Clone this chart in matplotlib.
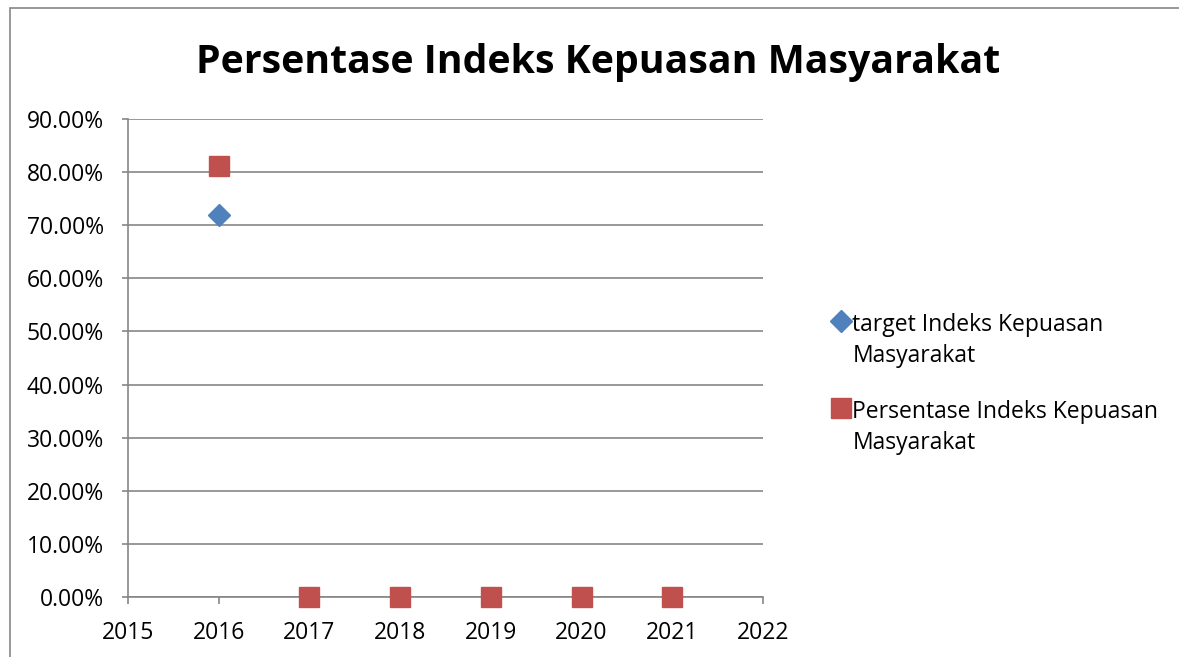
import matplotlib.pyplot as plt
import matplotlib.patches as patches
from matplotlib.ticker import PercentFormatter

plt.rcParams['font.family'] = ['Open Sans', 'DejaVu Sans']

# data
target_years = [2016]
target_vals = [0.72]
persen_years = [2016, 2017, 2018, 2019, 2020, 2021]
persen_vals = [0.8113, 0.0, 0.0, 0.0, 0.0, 0.0]
x_ticks = [2015, 2016, 2017, 2018, 2019, 2020, 2021, 2022]
y_ticks = [0.0, 0.1, 0.2, 0.3, 0.4, 0.5, 0.6, 0.7, 0.8, 0.9]

grey = '#868686'

fig = plt.figure(figsize=(11.79, 6.57), dpi=100)
ax = fig.add_axes([128 / 1179, 1 - 597 / 657, 635 / 1179, 478 / 657])

ax.plot(target_years, target_vals, linestyle='none', marker='D', markersize=11,
        color='#4F81BD', label='target Indeks Kepuasan\nMasyarakat', clip_on=False, zorder=3)
ax.plot(persen_years, persen_vals, linestyle='none', marker='s', markersize=14,
        color='#C0504D', label='Persentase Indeks Kepuasan\nMasyarakat', clip_on=False, zorder=3)

ax.set_xlim(2015, 2022)
ax.set_ylim(0, 0.9)
ax.set_xticks(x_ticks)
ax.set_yticks(y_ticks)
ax.yaxis.set_major_formatter(PercentFormatter(1.0, decimals=2))

ax.grid(axis='y', color=grey, linewidth=1.2)
ax.set_axisbelow(True)
for s in ['top', 'right']:
    ax.spines[s].set_visible(False)
for s in ['left', 'bottom']:
    ax.spines[s].set_color(grey)
    ax.spines[s].set_linewidth(1.2)

ax.tick_params(axis='x', length=5, width=1.2, color=grey, labelsize=16.5, pad=12)
ax.tick_params(axis='y', length=4.5, width=1.2, color=grey, labelsize=16.5, pad=13)

leg = ax.legend(loc='upper left', bbox_to_anchor=(821 / 1179, 1 - 302 / 657),
                bbox_transform=fig.transFigure, frameon=False, fontsize=16.5,
                handlelength=0.75, handletextpad=0.12, labelspacing=1.4, borderpad=0)
for t in leg.get_texts():
    t.set_linespacing(1.37)
# marker next to the first line of each label, not centred on both
for col in leg._legend_handle_box.get_children():
    for row in col.get_children():
        row.align = 'top'

fig.text(598 / 1179, 1 - 73 / 657, 'Persentase Indeks Kepuasan Masyarakat',
         ha='center', va='baseline', fontsize=28.3, fontweight='bold')

# outer chart border, cut off at right and bottom like the screenshot
fig.add_artist(patches.Rectangle((10 / 1179, -0.1), 1.2, 1.1 - 8 / 657,
                                 transform=fig.transFigure, fill=False,
                                 edgecolor=grey, linewidth=1.2))

fig.savefig('out.png', dpi=100)
